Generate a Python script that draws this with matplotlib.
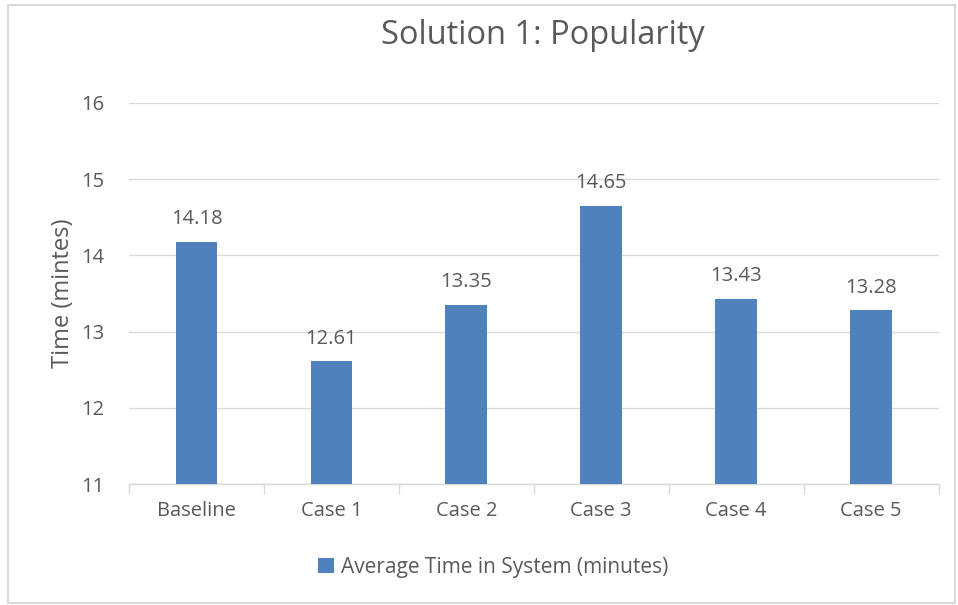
import matplotlib
matplotlib.use("Agg")
import matplotlib.pyplot as plt
from matplotlib.patches import Rectangle

categories = ["Baseline", "Case 1", "Case 2", "Case 3", "Case 4", "Case 5"]
values = [14.18, 12.61, 13.35, 14.65, 13.43, 13.28]
series_name = "Average Time in System (minutes)"
yticks = [11, 12, 13, 14, 15, 16]

plt.rcParams['font.family'] = ['Open Sans', 'DejaVu Sans']
text_color = "#595959"
bar_color = "#4F81BD"
grid_color = "#D9D9D9"

fig = plt.figure(figsize=(9.58, 6.05), dpi=100)
ax = fig.add_axes([0.1347, 0.2, 0.845, 0.6298])

x = list(range(len(categories)))
bars = ax.bar(x, values, width=0.31, color=bar_color, label=series_name, zorder=3)
for xi, v in zip(x, values):
    ax.annotate(f"{v:.2f}", (xi, v), xytext=(0, 9), textcoords="offset points",
                ha="center", va="bottom", fontsize=14.5, color=text_color)

ax.set_xlim(-0.5, len(categories) - 0.5)
ax.set_ylim(11, 16)
ax.set_yticks(yticks)
ax.set_yticklabels([str(t) for t in yticks])
ax.tick_params(axis='y', length=0, pad=18, labelsize=14.5, labelcolor=text_color)
ax.grid(axis='y', color=grid_color, linewidth=1, zorder=0)

ax.set_xticks(x)
ax.set_xticklabels(categories)
ax.tick_params(axis='x', which='major', length=0, pad=12, labelsize=14.5, labelcolor=text_color)
ax.set_xticks([i - 0.5 for i in range(len(categories) + 1)], minor=True)
ax.tick_params(axis='x', which='minor', length=7, color=grid_color, width=1)

for s in ['top', 'right', 'left']:
    ax.spines[s].set_visible(False)
ax.spines['bottom'].set_color(grid_color)
ax.spines['bottom'].set_linewidth(1)

ax.set_ylabel("Time (mintes)", fontsize=17, color=text_color, labelpad=4)
fig.text(0.567, 0.942, "Solution 1: Popularity", ha="center", va="center",
         fontsize=23.5, color=text_color)

leg = fig.legend(handles=[bars], labels=[series_name], loc="center",
                 bbox_to_anchor=(0.515, 0.062), frameon=False, fontsize=15,
                 handlelength=0.75, handleheight=0.75, handletextpad=0.35)
for t in leg.get_texts():
    t.set_color(text_color)

fig.patches.append(Rectangle((8/958, 2/605), 947/958, 598/605, transform=fig.transFigure,
                             fill=False, edgecolor="#D9D9D9", linewidth=1.5))

fig.savefig("out.png", dpi=100)
